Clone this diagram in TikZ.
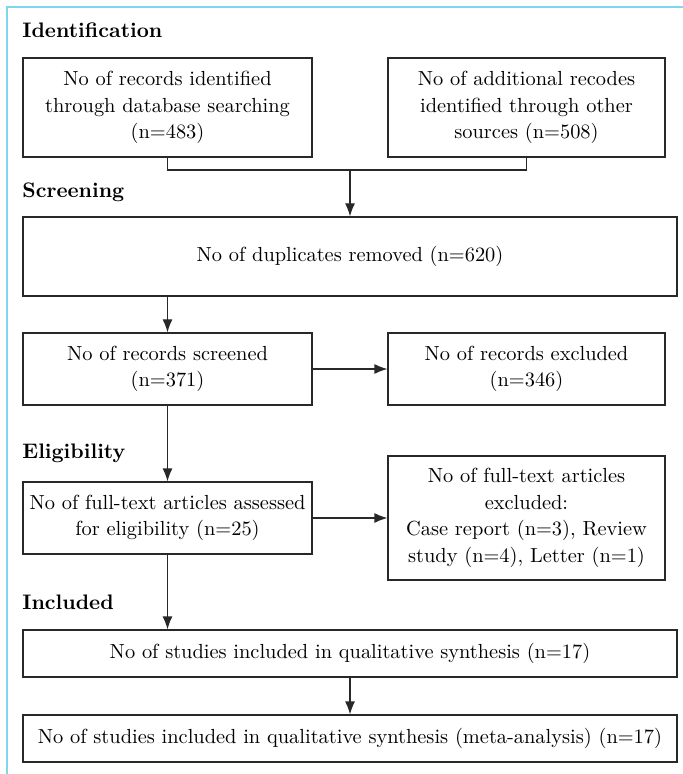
\documentclass[tikz,border=0pt]{standalone}
\usetikzlibrary{arrows.meta}
\definecolor{framecol}{RGB}{128,214,238}
\definecolor{linecol}{RGB}{40,40,40}
\tikzset{
    box/.style={draw=linecol, line width=0.6pt, align=center, inner sep=1pt},
    wide/.style={box, minimum width=327pt},
    half/.style={box, minimum width=144.5pt},
    side/.style={box, minimum width=138.5pt},
    head/.style={anchor=west, font=\fontsize{10.5}{13}\bfseries, inner sep=0pt},
    link/.style={draw=linecol, line width=0.6pt},
    arr/.style={link, -{Latex[length=6.5pt,width=5pt]}}
}
\begin{document}
\begin{tikzpicture}[x=0.5pt, y=-0.5pt, font=\fontsize{10.2}{13.3}\selectfont]
    \useasboundingbox (0,0) rectangle (683,774);
    \draw[framecol, line width=1pt] (683,7) -- (7,7) -- (7,774);
    \node[head] (hid) at (22,30) {Identification};
    \node[half, minimum height=49.5pt] (rec) at (167.5,107.5) {No of records identified\\through database searching\\(n=483)};
    \node[side, minimum height=49.5pt] (add) at (526.5,107.5) {No of additional recodes\\identified through other\\sources (n=508)};
    \node[head] (hscr) at (22,192) {Screening};
    \node[wide, minimum height=39.5pt] (dup) at (350,256.5) {No of duplicates removed (n=620)};
    \node[half, minimum height=36pt] (scr) at (167.5,369) {No of records screened\\(n=371)};
    \node[side, minimum height=36pt] (exc) at (526.5,369) {No of records excluded\\(n=346)};
    \node[head] (hel) at (22,453) {Eligibility};
    \node[half, minimum height=36pt] (full) at (167.5,518) {No of full-text articles assessed\\for eligibility (n=25)};
    \node[side, minimum height=62pt] (fexc) at (526.5,518) {No of full-text articles\\excluded:\\Case report (n=3), Review\\study (n=4), Letter (n=1)};
    \node[head] (hin) at (22,602) {Included};
    \node[wide, minimum height=23.5pt] (qual) at (350,653.5) {No of studies included in qualitative synthesis (n=17)};
    \node[wide, minimum height=23.5pt] (meta) at (350,738.5) {No of studies included in qualitative synthesis (meta-analysis) (n=17)};
    \coordinate (join) at (350,170);
    \draw[link] (rec.south) |- (join) -| (add.south);
    \draw[arr] (join) -- (join |- dup.north);
    \draw[arr] (dup.south -| scr.north) -- (scr.north);
    \draw[arr] (scr.east) -- (scr.east -| exc.west);
    \draw[arr] (scr) -- (full);
    \draw[arr] (full.east) -- (full.east -| fexc.west);
    \draw[arr] (full.south) -- (full.south |- qual.north);
    \draw[arr] (qual) -- (meta);
\end{tikzpicture}
\end{document}
